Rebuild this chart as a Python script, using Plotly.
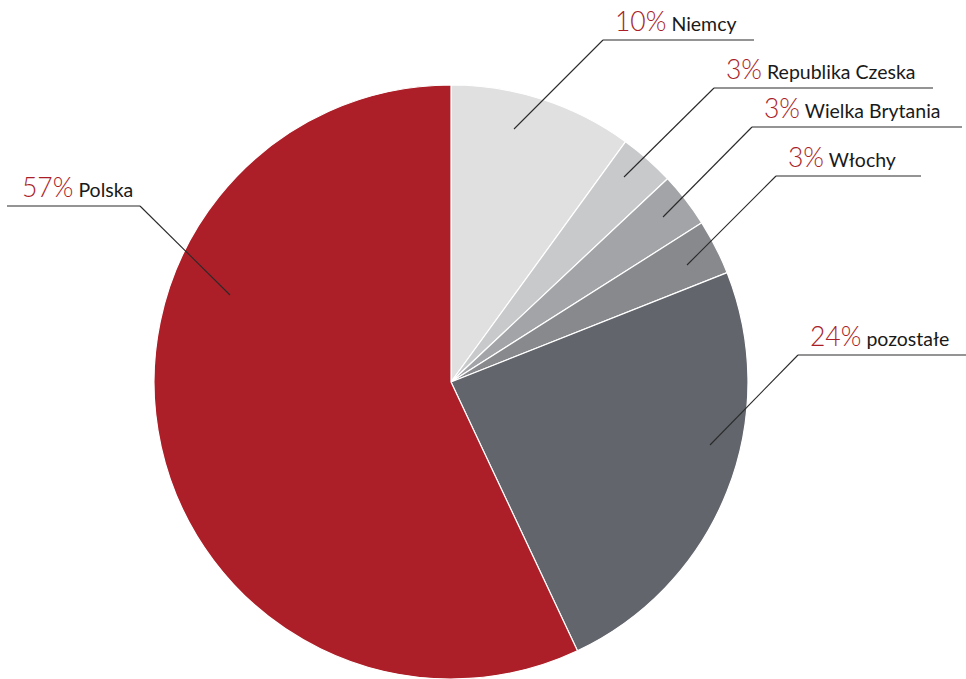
import plotly.graph_objects as go

# ---- data ----
countries = ["Niemcy", "Republika Czeska", "Wielka Brytania", "Włochy", "pozostałe", "Polska"]
shares = [10, 3, 3, 3, 24, 57]
colors = ["#E0E0E0", "#C8C9CB", "#A3A4A7", "#88898D", "#62656C", "#AD1F28"]

# ---- layout (pixel positions of label leader lines) ----
W, H = 966, 679
CX, CY, R = 451, 382, 297
# (anchor x, anchor y, elbow x, elbow y, line end x, direction)
leaders = [
    (514, 129, 603, 40, 754, "right"),
    (624, 177, 714, 88, 933, "right"),
    (663, 217, 752, 127, 962, "right"),
    (687, 265, 776, 176, 921, "right"),
    (710, 445, 798, 355, 966, "right"),
    (230, 295, 140, 206, 7, "left"),
]


def px(x):
    return x / W


def py(y):
    return 1 - y / H


fig = go.Figure()
fig.add_trace(go.Pie(
    labels=countries,
    values=shares,
    sort=False,
    direction="clockwise",
    rotation=0,
    marker=dict(colors=colors, line=dict(color="white", width=1.2)),
    textinfo="none",
    hoverinfo="label+percent",
    showlegend=False,
    domain=dict(x=[(CX - R) / W, (CX + R) / W], y=[0, 2 * R / H]),
))

shapes = []
annotations = []
for name, val, (ax, ay, ex, ey, lx, d) in zip(countries, shares, leaders):
    line = dict(color="#2a2a2a", width=1.1)
    shapes.append(dict(type="line", xref="paper", yref="paper",
                       x0=px(ax), y0=py(ay), x1=px(ex), y1=py(ey), line=line))
    shapes.append(dict(type="line", xref="paper", yref="paper",
                       x0=px(ex), y0=py(ey), x1=px(lx), y1=py(ey), line=line))
    tx = ex + 12 if d == "right" else lx + 15
    txt = ("<span style='font-family:Lato;font-weight:300;font-size:26.5px;color:#A91E28'>"
           f"{val}%</span> {name}")
    annotations.append(dict(
        xref="paper", yref="paper", x=px(tx), y=py(ey - 1),
        xanchor="left", yanchor="bottom", showarrow=False, text=txt,
        font=dict(family="Lato", size=19.5, color="#1a1a1a"),
        xshift=-2,
    ))

fig.update_layout(
    width=W, height=H,
    margin=dict(l=0, r=0, t=0, b=0),
    paper_bgcolor="white", plot_bgcolor="white",
    shapes=shapes, annotations=annotations,
)

fig.write_html("out.html")
